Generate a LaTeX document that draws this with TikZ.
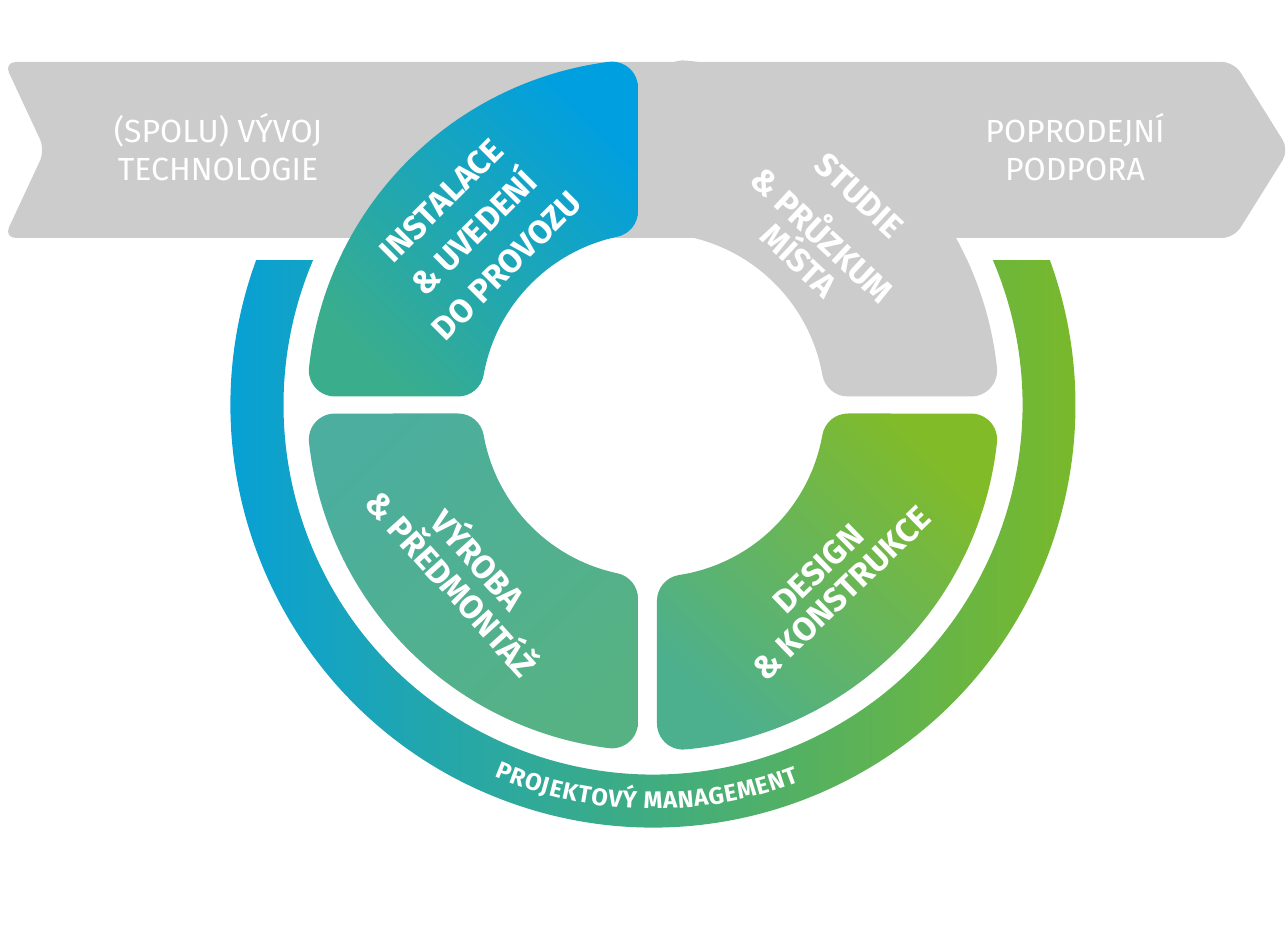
\documentclass[tikz,border=0pt]{standalone}
\usepackage{fontspec}
\setmainfont{Fira Sans}
\usetikzlibrary{decorations.text}

\definecolor{bandgray}{HTML}{CCCCCC}
\definecolor{ringblue}{HTML}{009FE0}
\definecolor{ringteal}{HTML}{3BB08A}
\definecolor{ringgreen}{HTML}{7AB929}
\definecolor{installteal}{HTML}{3AAD8C}
\definecolor{buildtop}{HTML}{4BAE9E}
\definecolor{buildbottom}{HTML}{56B283}
\definecolor{designgreen}{HTML}{82BB28}
\definecolor{designteal}{HTML}{4CB08E}

\tikzset{
  bandtext/.style={text=white, align=center, inner sep=0pt, font=\fontsize{32}{38}\selectfont},
  phasetext/.style={text=white, align=center, inner sep=0pt, font=\bfseries\fontsize{33}{#1}\selectfont},
  phasetext/.default=35,
}

% Quadrant outlines with rounded corners (upper right quadrant, mirrored for the others)
\newcommand{\leftquad}{(15,317.36) arc[start angle=180, end angle=82.64, radius=26]
  arc[start angle=82.64, end angle=6.19, radius=346]
  arc[start angle=6.19, end angle=-90, radius=26] -- (194.97,8.5)
  arc[start angle=270, end angle=190.03, radius=26]
  arc[start angle=10.03, end angle=78.05, radius=172]
  arc[start angle=258.05, end angle=180, radius=26] -- cycle}
\newcommand{\rightquad}{(4,318.59) arc[start angle=180, end angle=84.62, radius=26]
  arc[start angle=84.62, end angle=6.19, radius=346]
  arc[start angle=6.19, end angle=-90, radius=26] -- (194.97,8.5)
  arc[start angle=270, end angle=190.03, radius=26]
  arc[start angle=10.03, end angle=81.29, radius=172]
  arc[start angle=261.29, end angle=180, radius=26] -- cycle}

\begin{document}
\begin{tikzpicture}[x=1pt,y=1pt]
    % Frame of the picture, origin at the centre of the circle
    \useasboundingbox (-653,-536) rectangle (635,405);

    % Grey arrow band behind the circle
    \fill[bandgray, rounded corners=12pt] (0,343) -- (581,343) -- (636,255) -- (581,167)
        -- (-649,167) -- (-608,255) -- (-649,343) -- cycle;
    \node[bandtext] (codev) at (-435,258) {(SPOLU) VÝVOJ\\TECHNOLOGIE};
    \node[bandtext] (aftersales) at (422,258) {POPRODEJNÍ\\PODPORA};

    % Outer ring
    \shade[left color=ringblue, middle color=ringteal, right color=ringgreen]
        (159.93:422.5) arc (159.93:380.07:422.5) -- (23.1:369.5) arc (23.1:-203.1:369.5) -- cycle;
    \path[decorate, decoration={text along path, text align=fit to path, text color=white,
        text={|\bfseries\fontsize{24}{24}\selectfont|PROJEKTOVÝ MANAGEMENT}}]
        (246.9:404) arc (246.9:291.2:404);

    % Top left quadrant
    \begin{scope}
        \clip[xscale=-1] \leftquad;
        \shade[top color=ringblue, bottom color=installteal, shading angle=-45] (-346,8) rectangle (-15,346);
    \end{scope}
    % Top right quadrant
    \fill[bandgray] \rightquad;
    % Bottom left quadrant
    \begin{scope}
        \clip[xscale=-1, yscale=-1] \leftquad;
        \shade[top color=buildtop, bottom color=buildbottom, shading angle=45] (-346,-346) rectangle (-15,-8);
    \end{scope}
    % Bottom right quadrant
    \begin{scope}
        \clip[yscale=-1] \rightquad;
        \shade[top color=designgreen, bottom color=designteal, shading angle=-45] (4,-346) rectangle (346,-8);
    \end{scope}

    % Quadrant labels
    \node[phasetext=46, rotate=45] (install) at (-179,172) {INSTALACE\\\& UVEDENÍ\\DO PROVOZU};
    \node[phasetext=34, rotate=-43] (study) at (176,177) {STUDIE\\[21pt]\& PRŮZKUM\\MÍSTA};
    \node[phasetext=36, rotate=-48] (build) at (-186,-165) {VÝROBA\\\& PŘEDMONTÁŽ};
    \node[phasetext=34, rotate=44] (design) at (177,-176) {DESIGN\\\& KONSTRUKCE};
\end{tikzpicture}
\end{document}
